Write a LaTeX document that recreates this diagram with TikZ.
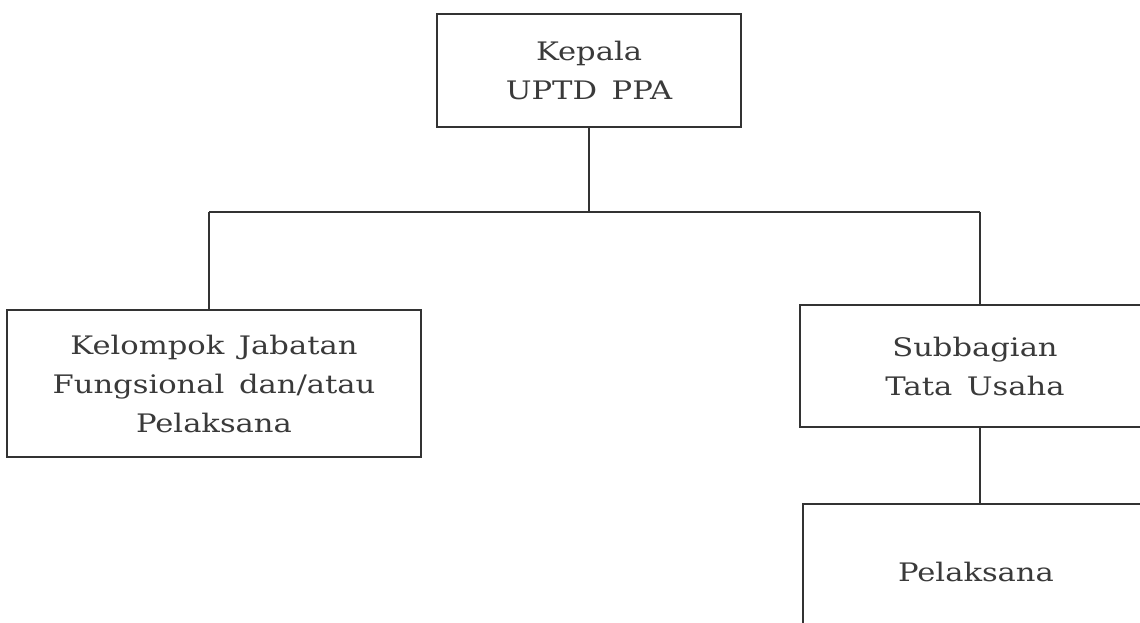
\documentclass[tikz,border=0pt]{standalone}
\usepackage{fontspec}
\setmainfont{DejaVu Serif}[FakeStretch=1.2, WordSpace=1.5]
\definecolor{ink}{HTML}{333333}
\definecolor{txt}{HTML}{3A3A3A}
\tikzset{
  box/.style={draw=ink, line width=2pt, fill=white, align=center, inner sep=0pt,
    text=txt, font=\fontsize{25.5}{39}\selectfont},
  link/.style={draw=ink, line width=2pt}
}
\begin{document}
\begin{tikzpicture}[x=1pt,y=-1pt]
\useasboundingbox (0,0) rectangle (1140,623);
\clip (0,0) rectangle (1140,623);
\fill[white] (0,0) rectangle (1140,623);
\node[box, minimum width=304pt, minimum height=113pt] (kep) at (589,70.5) {Kepala\\UPTD PPA};
\node[box, minimum width=414pt, minimum height=147pt] (jab) at (214,383.5) {Kelompok Jabatan\\Fungsional dan/atau\\Pelaksana};
\node[box, minimum width=350pt, minimum height=122pt] (sub) at (975,366) {Subbagian\\Tata Usaha};
\node[box, minimum width=346pt, minimum height=136pt] (pel) at (976,572) {Pelaksana};
\coordinate (busL) at (209,212);
\coordinate (busR) at (980,212);
\draw[link] (kep.south) -- (kep.south |- busL);
\draw[link] (busL) -- (busR);
\draw[link] (busL) -- (busL |- jab.north);
\draw[link] (busR) -- (busR |- sub.north);
\draw[link] (busR |- sub.south) -- (busR |- pel.north);
\end{tikzpicture}
\end{document}
